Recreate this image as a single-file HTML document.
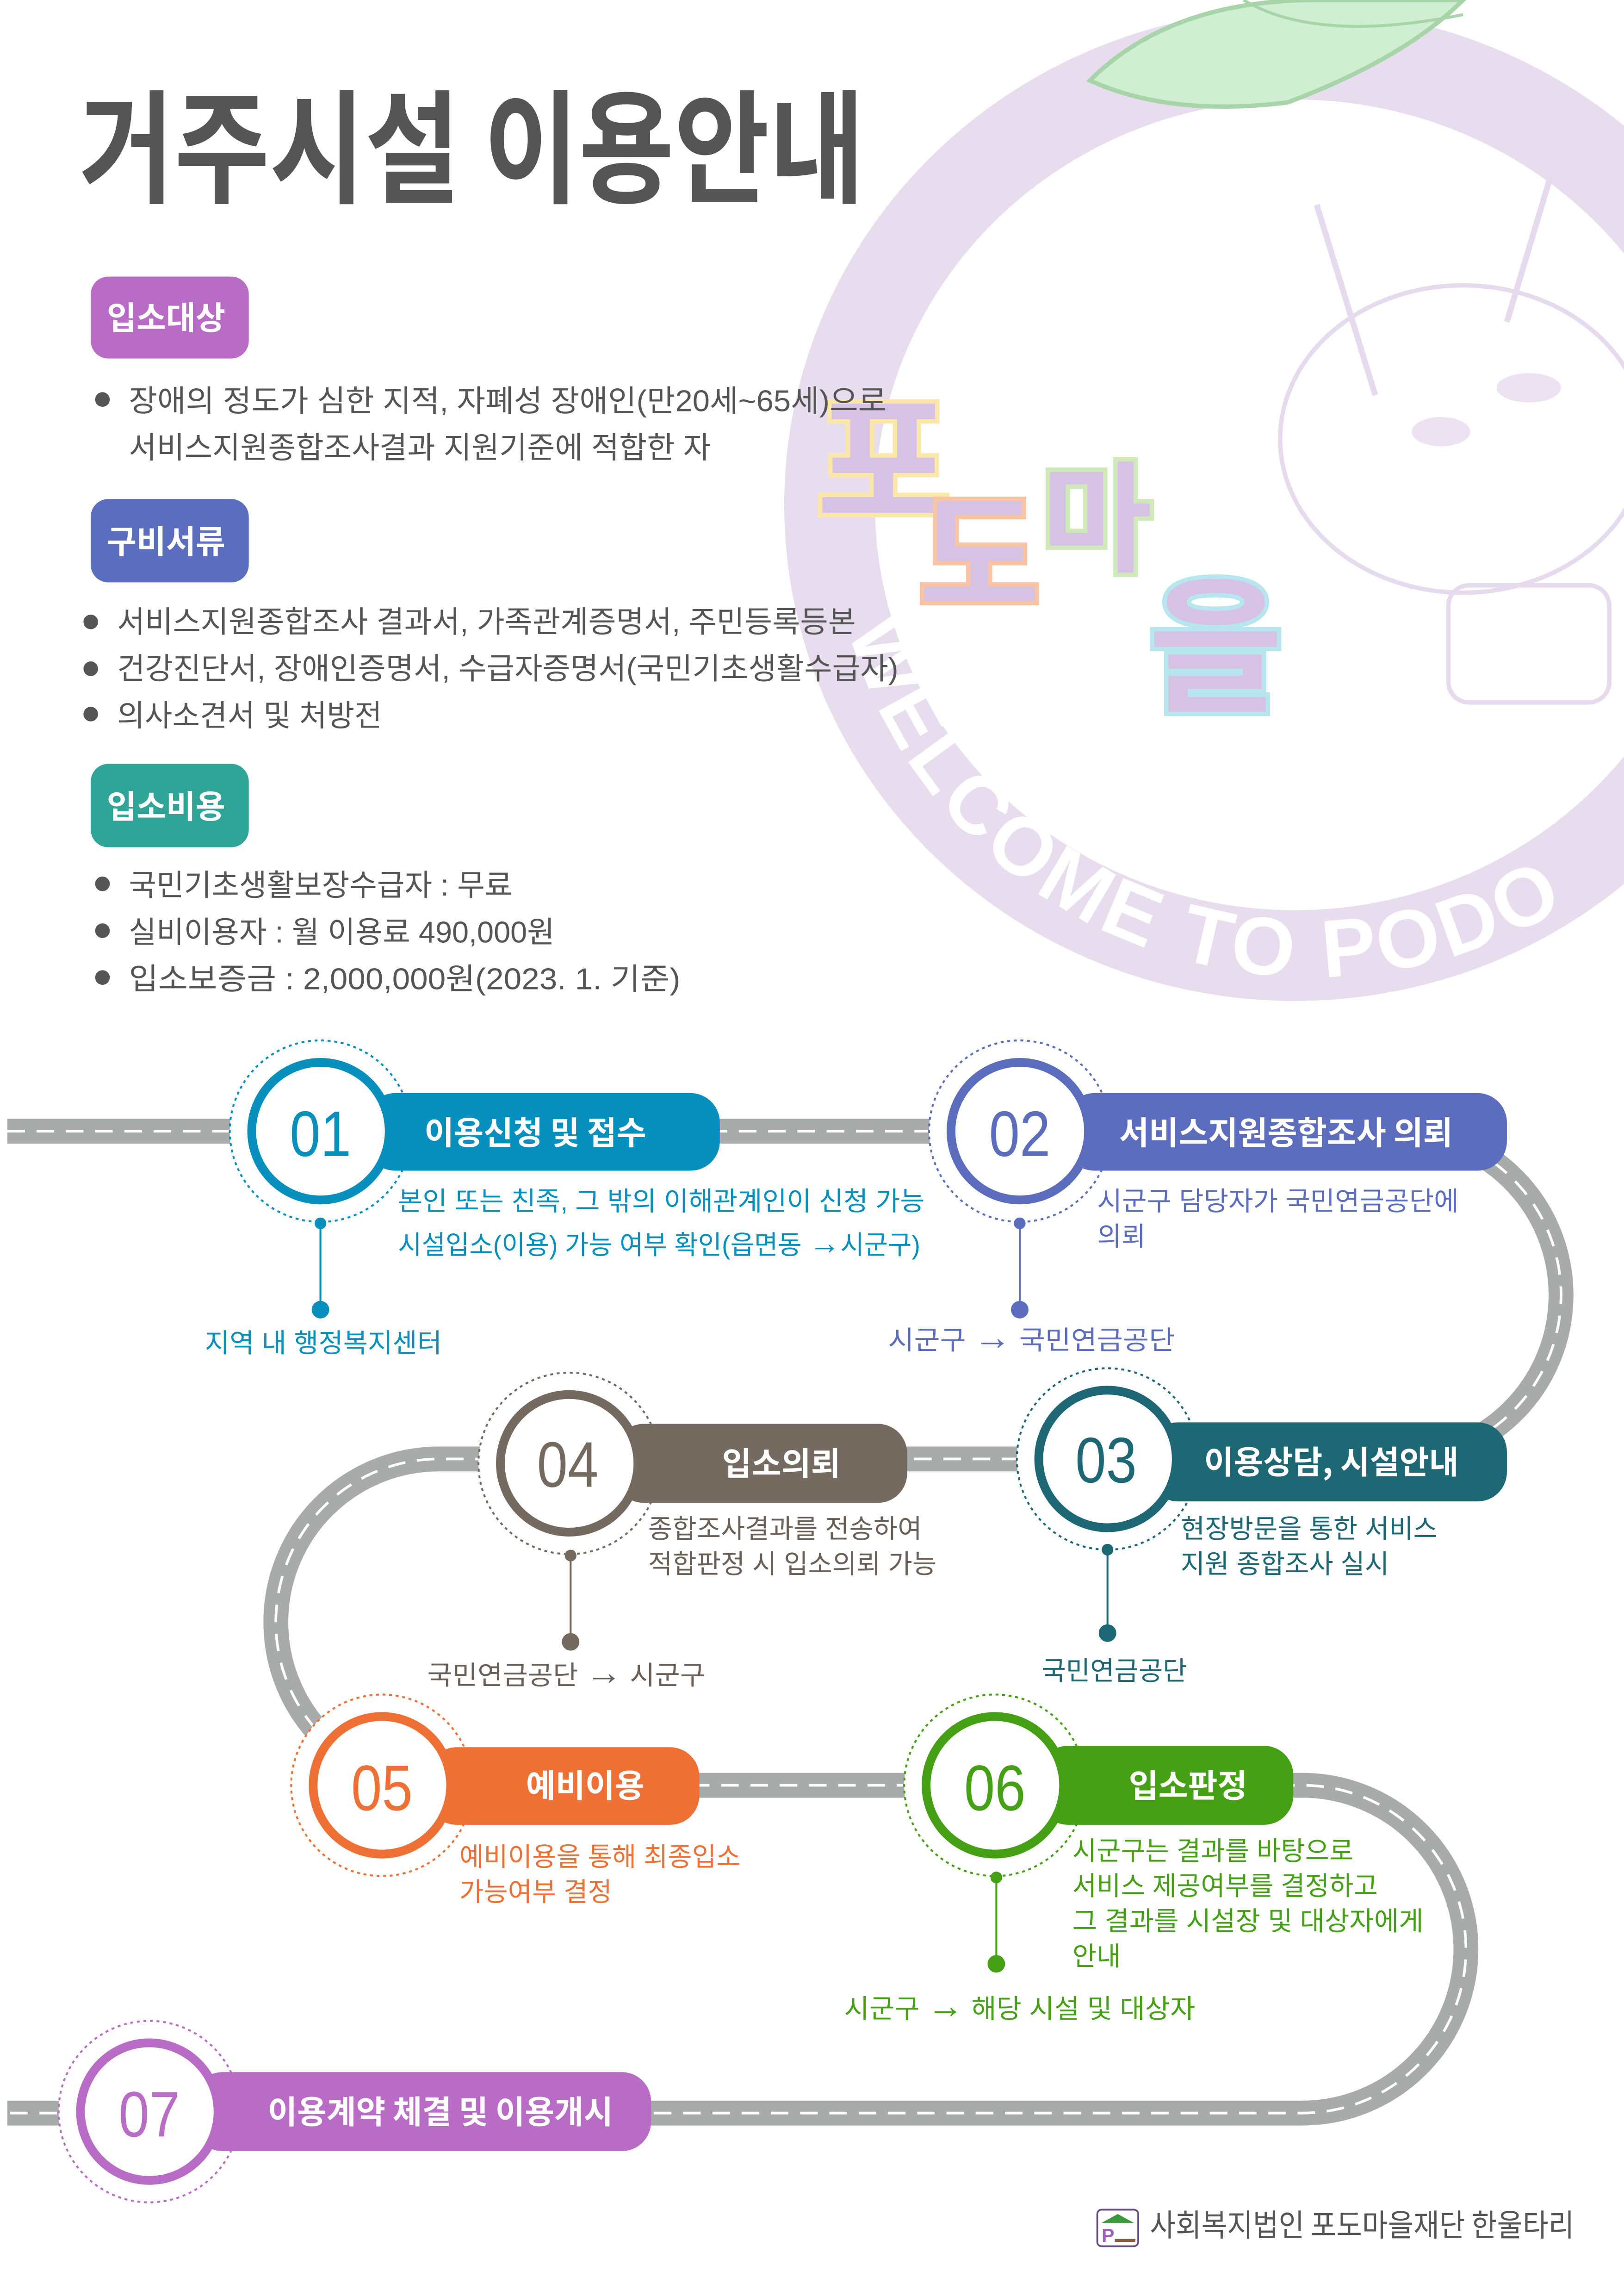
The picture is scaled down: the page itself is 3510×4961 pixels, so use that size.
<!DOCTYPE html>
<html><head><meta charset="utf-8"><style>
html,body{margin:0;padding:0;background:#fff;}
svg{display:block;}
text{font-family:"Liberation Sans","Noto Sans CJK KR",sans-serif;}
.k{font-family:"Noto Sans CJK KR","Liberation Sans",sans-serif;}
</style></head><body>
<svg width="3510" height="4961" viewBox="0 0 1110 1569" xmlns="http://www.w3.org/2000/svg">
<rect width="1110" height="1569" fill="#fff"/>
<defs>
<path id="arc" d="M 580 430 A 328 320 0 0 0 1200 470"/>
</defs>
<ellipse cx="885" cy="345" rx="318" ry="308" fill="none" stroke="#e7ddee" stroke-width="62"/>
<ellipse cx="1000" cy="300" rx="125" ry="105" fill="none" stroke="#e6dbee" stroke-width="3"/>
<path d="M940 270 L900 140 M1030 220 L1060 120" stroke="#e6dbee" stroke-width="4" fill="none"/>
<rect x="990" y="400" width="110" height="80" rx="14" fill="none" stroke="#e6dbee" stroke-width="3"/>
<ellipse cx="985" cy="295" rx="20" ry="10" fill="#ece2f2"/>
<ellipse cx="1045" cy="265" rx="22" ry="10" fill="#ece2f2"/>
<path d="M745 55 Q800 0 900 0 L1000 0 Q960 40 880 70 Q800 80 745 55 Z" fill="#d0eed2" stroke="#a8d4aa" stroke-width="3"/>
<path d="M850 0 Q900 30 1000 10" stroke="#a8d4aa" stroke-width="2" fill="none"/>
<text font-size="56" font-weight="bold" fill="#fff" letter-spacing="3"><textPath href="#arc">WELCOME TO PODO</textPath></text>
<g class="k" font-weight="bold" fill="#d6c2e4" stroke-width="6" paint-order="stroke" style="font-family:'Noto Sans CJK KR',sans-serif">
<text x="558" y="352" font-size="100" stroke="#fbe7a8">포</text>
<text x="628" y="412" font-size="90" stroke="#f8c4a4">도</text>
<text x="712" y="384" font-size="82" stroke="#cfeab8">마</text>
<text x="785" y="478" font-size="100" stroke="#b8e6ee">을</text>
</g>
<text class="k" x="54" y="132" font-size="84" font-weight="bold" fill="#555" textLength="537" lengthAdjust="spacingAndGlyphs">거주시설 이용안내</text>
<g class="k" font-weight="bold" fill="#fff" font-size="22">
<rect x="62" y="189" width="108" height="56" rx="12" fill="#b96cc5"/>
<text x="73" y="225">입소대상</text>
<rect x="62" y="341" width="108" height="57" rx="12" fill="#5b6dbe"/>
<text x="73" y="378">구비서류</text>
<rect x="62" y="522" width="108" height="57" rx="12" fill="#2ea596"/>
<text x="73" y="559">입소비용</text>
</g>
<g class="k" font-size="20.5" fill="#555">
<circle cx="70" cy="273" r="5" fill="#555"/><text x="88" y="281" textLength="518" lengthAdjust="spacingAndGlyphs">장애의 정도가 심한 지적, 자폐성 장애인(만20세~65세)으로</text>
<text x="88" y="313" textLength="398" lengthAdjust="spacingAndGlyphs">서비스지원종합조사결과 지원기준에 적합한 자</text>
<circle cx="62" cy="425" r="5" fill="#555"/><text x="80" y="432" textLength="505" lengthAdjust="spacingAndGlyphs">서비스지원종합조사 결과서, 가족관계증명서, 주민등록등본</text>
<circle cx="62" cy="457" r="5" fill="#555"/><text x="80" y="464" textLength="534" lengthAdjust="spacingAndGlyphs">건강진단서, 장애인증명서, 수급자증명서(국민기초생활수급자)</text>
<circle cx="62" cy="488" r="5" fill="#555"/><text x="80" y="496">의사소견서 및 처방전</text>
<circle cx="70" cy="604" r="5" fill="#555"/><text x="88" y="612">국민기초생활보장수급자 : 무료</text>
<circle cx="70" cy="636" r="5" fill="#555"/><text x="88" y="644">실비이용자 : 월 이용료 490,000원</text>
<circle cx="70" cy="668" r="5" fill="#555"/><text x="88" y="676" textLength="377" lengthAdjust="spacingAndGlyphs">입소보증금 : 2,000,000원(2023. 1. 기준)</text>
</g>
<path d="M5 773 H955 A112 112 0 0 1 955 997 H300 A111 111 0 0 0 300 1220 H890 A112 112 0 0 1 890 1444 H5" fill="none" stroke="#a8abaa" stroke-width="17"/>
<path d="M5 773 H955 A112 112 0 0 1 955 997 H300 A111 111 0 0 0 300 1220 H890 A112 112 0 0 1 890 1444 H5" fill="none" stroke="#fff" stroke-width="1.8" stroke-dasharray="12 8"/>

<g>
<circle cx="219" cy="773" r="62" fill="#fff"/>
<rect x="250" y="747" width="242" height="53" rx="20" fill="#078fbd"/>
<circle cx="219" cy="773" r="62" fill="none" stroke="#078fbd" stroke-width="1.3" stroke-dasharray="2 2.5"/>
<circle cx="219" cy="773" r="47" fill="#fff" stroke="#078fbd" stroke-width="6"/>
<text x="219" y="790" font-size="44" fill="#078fbd" text-anchor="middle" textLength="42" lengthAdjust="spacingAndGlyphs">01</text>
<text class="k" x="290" y="782" font-size="22" font-weight="bold" fill="#fff">이용신청 및 접수</text>
<line x1="219" y1="835" x2="219" y2="895" stroke="#078fbd" stroke-width="1.3"/>
<circle cx="219" cy="836" r="4" fill="#078fbd"/><circle cx="219" cy="895" r="6" fill="#078fbd"/>
<g class="k" font-size="18" fill="#078fbd">
<text x="272" y="827" textLength="360" lengthAdjust="spacingAndGlyphs">본인 또는 친족, 그 밖의 이해관계인이 신청 가능</text>
<text x="272" y="857" textLength="357" lengthAdjust="spacingAndGlyphs">시설입소(이용) 가능 여부 확인(읍면동 <tspan font-size="22">→</tspan>시군구)</text>
<text x="140" y="924" textLength="162" lengthAdjust="spacingAndGlyphs">지역 내 행정복지센터</text>
</g>
</g>
<g>
<circle cx="697" cy="773" r="62" fill="#fff"/>
<rect x="728" y="747" width="302" height="53" rx="20" fill="#5c6dbd"/>
<circle cx="697" cy="773" r="62" fill="none" stroke="#5c6dbd" stroke-width="1.3" stroke-dasharray="2 2.5"/>
<circle cx="697" cy="773" r="47" fill="#fff" stroke="#5c6dbd" stroke-width="6"/>
<text x="697" y="790" font-size="44" fill="#5c6dbd" text-anchor="middle" textLength="42" lengthAdjust="spacingAndGlyphs">02</text>
<text class="k" x="765" y="782" font-size="22" font-weight="bold" fill="#fff" textLength="228" lengthAdjust="spacingAndGlyphs">서비스지원종합조사 의뢰</text>
<line x1="697" y1="835" x2="697" y2="895" stroke="#5c6dbd" stroke-width="1.3"/>
<circle cx="697" cy="836" r="4" fill="#5c6dbd"/><circle cx="697" cy="895" r="6" fill="#5c6dbd"/>
<g class="k" font-size="18" fill="#5c6dbd">
<text x="750" y="827" textLength="247" lengthAdjust="spacingAndGlyphs">시군구 담당자가 국민연금공단에</text>
<text x="750" y="851">의뢰</text>
<text x="607" y="922" textLength="196" lengthAdjust="spacingAndGlyphs">시군구 <tspan font-size="24">→</tspan> 국민연금공단</text>
</g>
</g>
<g>
<circle cx="757" cy="997" r="62" fill="#fff"/>
<rect x="785" y="972" width="245" height="54" rx="20" fill="#1e6876"/>
<circle cx="757" cy="997" r="62" fill="none" stroke="#1e6876" stroke-width="1.3" stroke-dasharray="2 2.5"/>
<circle cx="757" cy="997" r="47" fill="#fff" stroke="#1e6876" stroke-width="6"/>
<text x="756" y="1013" font-size="44" fill="#1e6876" text-anchor="middle" textLength="42" lengthAdjust="spacingAndGlyphs">03</text>
<text class="k" x="823" y="1007" font-size="22" font-weight="bold" fill="#fff">이용상담, 시설안내</text>
<line x1="757" y1="1058" x2="757" y2="1116" stroke="#1e6876" stroke-width="1.3"/>
<circle cx="757" cy="1059" r="4" fill="#1e6876"/><circle cx="757" cy="1116" r="6" fill="#1e6876"/>
<g class="k" font-size="18" fill="#1e6876">
<text x="807" y="1051">현장방문을 통한 서비스</text>
<text x="807" y="1075">지원 종합조사 실시</text>
<text x="712" y="1148">국민연금공단</text>
</g>
</g>
<g>
<circle cx="389" cy="1000" r="62" fill="#fff"/>
<rect x="420" y="973" width="200" height="54" rx="20" fill="#756a60"/>
<circle cx="389" cy="1000" r="62" fill="none" stroke="#756a60" stroke-width="1.3" stroke-dasharray="2 2.5"/>
<circle cx="389" cy="1000" r="47" fill="#fff" stroke="#756a60" stroke-width="6"/>
<text x="388" y="1016" font-size="44" fill="#756a60" text-anchor="middle" textLength="42" lengthAdjust="spacingAndGlyphs">04</text>
<text class="k" x="534" y="1008" font-size="22" font-weight="bold" fill="#fff" text-anchor="middle">입소의뢰</text>
<line x1="390" y1="1062" x2="390" y2="1122" stroke="#756a60" stroke-width="1.3"/>
<circle cx="390" cy="1063" r="4" fill="#756a60"/><circle cx="390" cy="1122" r="6" fill="#756a60"/>
<g class="k" font-size="18" fill="#6a6058">
<text x="443" y="1051">종합조사결과를 전송하여</text>
<text x="443" y="1075">적합판정 시 입소의뢰 가능</text>
<text x="292" y="1151" textLength="190" lengthAdjust="spacingAndGlyphs">국민연금공단 <tspan font-size="24">→</tspan> 시군구</text>
</g>
</g>
<g>
<circle cx="261" cy="1220" r="62" fill="#fff"/>
<rect x="292" y="1194" width="186" height="53" rx="20" fill="#ee7035"/>
<circle cx="261" cy="1220" r="62" fill="none" stroke="#ee7035" stroke-width="1.3" stroke-dasharray="2 2.5"/>
<circle cx="261" cy="1220" r="47" fill="#fff" stroke="#ee7035" stroke-width="6"/>
<text x="261" y="1237" font-size="44" fill="#ee7035" text-anchor="middle" textLength="42" lengthAdjust="spacingAndGlyphs">05</text>
<text class="k" x="400" y="1228" font-size="22" font-weight="bold" fill="#fff" text-anchor="middle">예비이용</text>
<g class="k" font-size="18" fill="#ee7035">
<text x="314" y="1275">예비이용을 통해 최종입소</text>
<text x="314" y="1299">가능여부 결정</text>
</g>
</g>
<g>
<circle cx="680" cy="1220" r="62" fill="#fff"/>
<rect x="710" y="1193" width="174" height="54" rx="20" fill="#45a015"/>
<circle cx="680" cy="1220" r="62" fill="none" stroke="#45a015" stroke-width="1.3" stroke-dasharray="2 2.5"/>
<circle cx="680" cy="1220" r="47" fill="#fff" stroke="#45a015" stroke-width="6"/>
<text x="680" y="1237" font-size="44" fill="#45a015" text-anchor="middle" textLength="42" lengthAdjust="spacingAndGlyphs">06</text>
<text class="k" x="812" y="1228" font-size="22" font-weight="bold" fill="#fff" text-anchor="middle">입소판정</text>
<line x1="681" y1="1282" x2="681" y2="1342" stroke="#45a015" stroke-width="1.3"/>
<circle cx="681" cy="1283" r="4" fill="#45a015"/><circle cx="681" cy="1342" r="6" fill="#45a015"/>
<g class="k" font-size="18" fill="#45a015">
<text x="733" y="1271">시군구는 결과를 바탕으로</text>
<text x="733" y="1295">서비스 제공여부를 결정하고</text>
<text x="733" y="1319" textLength="240" lengthAdjust="spacingAndGlyphs">그 결과를 시설장 및 대상자에게</text>
<text x="733" y="1343">안내</text>
<text x="577" y="1379" textLength="240" lengthAdjust="spacingAndGlyphs">시군구 <tspan font-size="24">→</tspan> 해당 시설 및 대상자</text>
</g>
</g>
<g>
<circle cx="102" cy="1443" r="62" fill="#fff"/>
<rect x="132" y="1416" width="313" height="54" rx="20" fill="#b96cc5"/>
<circle cx="102" cy="1443" r="62" fill="none" stroke="#b96cc5" stroke-width="1.3" stroke-dasharray="2 2.5"/>
<circle cx="102" cy="1443" r="47" fill="#fff" stroke="#b96cc5" stroke-width="6"/>
<text x="102" y="1460" font-size="44" fill="#b96cc5" text-anchor="middle" textLength="42" lengthAdjust="spacingAndGlyphs">07</text>
<text class="k" x="183" y="1451" font-size="22" font-weight="bold" fill="#fff" textLength="236" lengthAdjust="spacingAndGlyphs">이용계약 체결 및 이용개시</text>
</g>
<rect x="750" y="1510" width="28" height="25" rx="3" fill="#fff" stroke="#6a4a8a" stroke-width="1.2"/>
<path d="M753 1519 L764 1513 L775 1519 Z" fill="#3a9a3a"/>
<text x="753" y="1532" font-size="13" font-weight="bold" fill="#a060c0">P</text>
<rect x="762" y="1530" width="14" height="2" fill="#8a5a3a"/>
<text class="k" x="786" y="1528" font-size="21" fill="#555" textLength="290" lengthAdjust="spacingAndGlyphs">사회복지법인 포도마을재단 한울타리</text>
</svg>
</body></html>
